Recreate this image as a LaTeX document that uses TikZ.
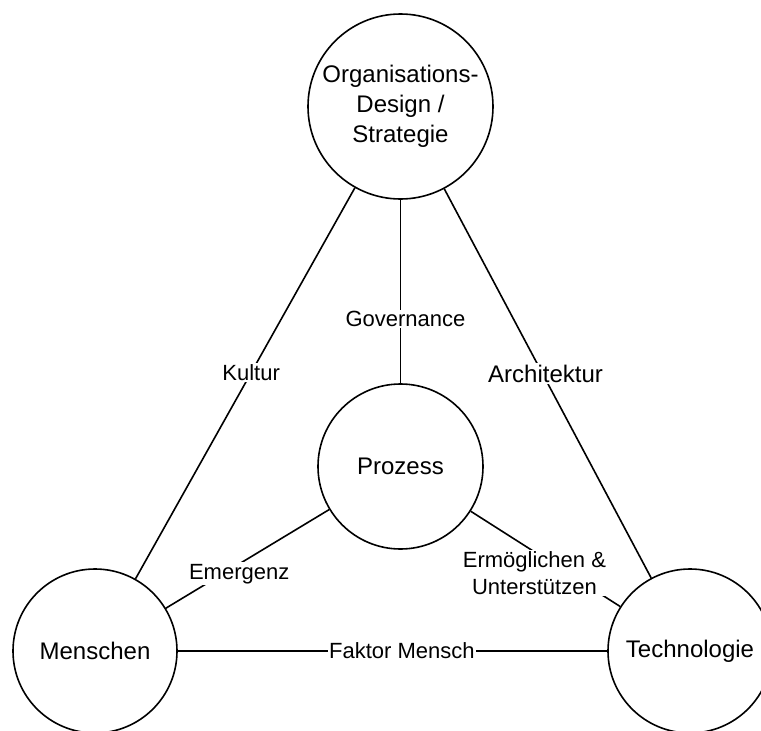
\documentclass[tikz,border=0pt]{standalone}
\usepackage{fontspec}
\setmainfont{Liberation Sans}
\begin{document}
\begin{tikzpicture}[x=1pt,y=-1pt,
  topic/.style={circle,draw,line width=1.6pt,inner sep=0pt,align=center,
    font=\fontsize{24}{30}\selectfont},
  link/.style={draw,line width=1.6pt},
  lbl/.style={fill=white,inner sep=1.5pt,align=center,
    font=\fontsize{22}{27}\selectfont},
  biglbl/.style={lbl,font=\fontsize{24}{29}\selectfont}]
  \useasboundingbox (0,0) rectangle (761,731);
  \clip (0,0) rectangle (761,731);

  % the four topic circles
  \node[topic,minimum size=185pt] (org) at (400.5,106.5) {Organisations-\\Design /\\Strategie};
  \node[topic,minimum size=165pt] (proz) at (400.5,466.5) {Prozess};
  \node[topic,minimum size=164pt] (men) at (95,651) {Menschen};
  \node[topic,minimum size=164pt] (tech) at (690,651) {Technologie};

  % connectors with their labels
  \path[link] (org) -- node[lbl,pos=0.473] {Kultur} (men);
  \path[link] (org) -- node[lbl,pos=0.65,xshift=5pt] {Governance} (proz);
  \path[link] (org) -- node[biglbl,pos=0.475,xshift=3pt] {Architektur} (tech);
  \path[link] (men) -- node[lbl,pos=0.522] {Faktor Mensch} (tech);
  \path[link] (proz) -- node[lbl,pos=0.6,xshift=8pt,yshift=-5pt] {Emergenz} (men);
  \path[link] (proz) -- node[lbl,pos=0.54,xshift=-17pt,yshift=-10pt] {Ermöglichen \&\\Unterstützen} (tech);
\end{tikzpicture}
\end{document}
